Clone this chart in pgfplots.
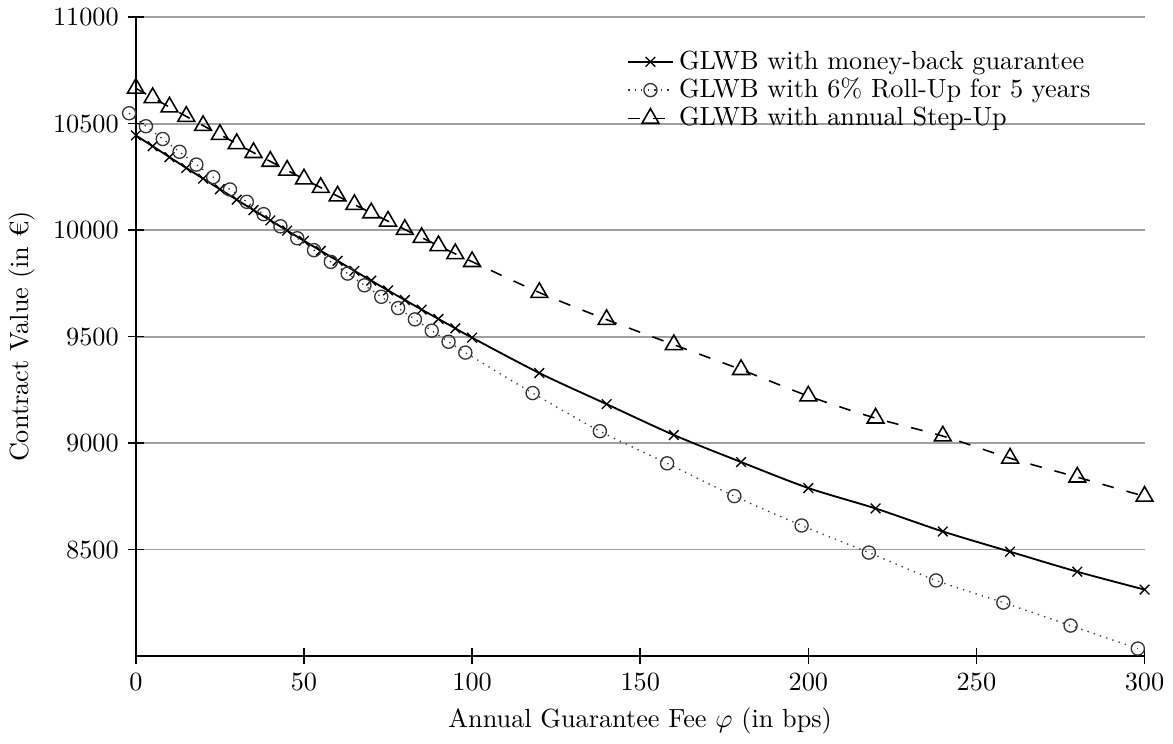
\documentclass[border=0pt]{standalone}
\usepackage{fontspec}
\usepackage{pgfplots}
\pgfplotsset{compat=1.18}

\begin{document}
\begin{tikzpicture}
\begin{axis}[
    scale only axis,
    width=13.5cm, height=8.55cm,
    xmin=0, xmax=300,
    ymin=8000, ymax=11000,
    xtick={0,50,...,300},
    ytick={8500,9000,...,11000},
    scaled y ticks=false,
    yticklabel style={/pgf/number format/1000 sep={}},
    axis x line*=bottom,
    axis y line*=left,
    axis line style={-, line width=0.7pt},
    tick style={line width=0.6pt, black},
    tick align=center,
    major tick length=6pt,
    ymajorgrids,
    grid style={gray!75, line width=0.7pt},
    clip=false,
    xlabel={Annual Guarantee Fee $\varphi$ (in bps)},
    ylabel={Contract Value (in €)},
    legend style={at={(0.96,0.965)}, anchor=north east, draw=none, fill=none,
        row sep=-2pt, font=\normalsize},
    legend cell align=left,
  ]
  % money-back guarantee
  \addplot[black, line width=0.7pt, smooth, mark=x, mark size=2.6pt,
      mark options={line width=0.5pt}]
  coordinates{
    (0,10445)(5,10394)(10,10343)(15,10292)(20,10242)(25,10192)(30,10143)
    (35,10094)(40,10046)(45,9998)(50,9950)(55,9903)(60,9856)(65,9809)
    (70,9763)(75,9717)(80,9672)(85,9627)(90,9583)(95,9539)(100,9495)
    (120,9329)(140,9183)(160,9038)(180,8911)(200,8789)(220,8693)
    (240,8585)(260,8490)(280,8396)(300,8312)
  };
  \addlegendentry{GLWB with money-back guarantee}
  % 6% roll-up for 5 years
  \addplot[black!80, line width=0.5pt, dotted, smooth, mark=o, mark size=2.5pt,
      mark options={solid}]
  coordinates{
    (-2,10549)(3,10488)(8,10428)(13,10368)(18,10308)(23,10249)(28,10191)
    (33,10133)(38,10075)(43,10018)(48,9962)(53,9906)(58,9851)(63,9796)
    (68,9741)(73,9687)(78,9634)(83,9581)(88,9528)(93,9476)(98,9425)
    (118,9235)(138,9056)(158,8905)(178,8751)(198,8613)(218,8486)
    (238,8355)(258,8251)(278,8143)(298,8035)
  };
  \addlegendentry{GLWB with 6\% Roll-Up for 5 years}
  % annual step-up
  \addplot[black, line width=0.6pt, dash pattern=on 4.5pt off 5pt, smooth,
      mark=triangle, mark size=3.7pt, mark options={solid}]
  coordinates{
    (0,10666)(5,10622)(10,10578)(15,10534)(20,10491)(25,10449)(30,10406)
    (35,10364)(40,10323)(45,10281)(50,10240)(55,10200)(60,10160)(65,10120)
    (70,10081)(75,10042)(80,10003)(85,9965)(90,9927)(95,9889)(100,9852)
    (120,9707)(140,9580)(160,9462)(180,9345)(200,9221)(220,9117)
    (240,9033)(260,8929)(280,8840)(300,8750)
  };
  \addlegendentry{GLWB with annual Step-Up}
\end{axis}
\end{tikzpicture}
\end{document}
